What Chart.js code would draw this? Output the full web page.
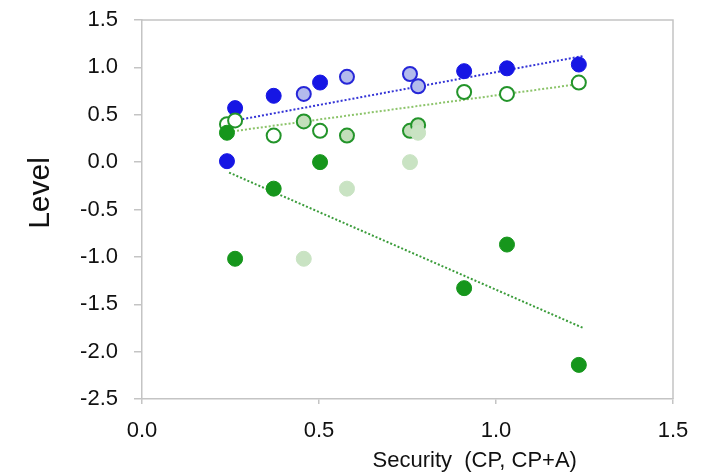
<!DOCTYPE html>
<html>
<head>
<meta charset="utf-8">
<script src="https://cdn.jsdelivr.net/npm/chart.js@4"></script>
<style>
  html, body { margin: 0; padding: 0; background: #fff; }
  #wrap { width: 715px; height: 473px; }
</style>
</head>
<body>
<div id="wrap"><canvas id="levelChart" width="715" height="473"></canvas></div>
<script>
// ── data ──
const xTicks = [0, 0.5, 1.0, 1.5];
const yTicks = [-2.5, -2.0, -1.5, -1.0, -0.5, 0, 0.5, 1.0, 1.5];

// security values: CP (solid marks) and CP+A (light marks)
const cpX  = [0.24, 0.263, 0.372, 0.503, 0.91, 1.031, 1.234];
const cpaX = [0.457, 0.579, 0.757, 0.78];

const blueCP    = [0.01, 0.57, 0.70, 0.84, 0.96, 0.99, 1.03];
const blueCPA   = [0.72, 0.90, 0.93, 0.80];
const ringCP    = [0.40, 0.44, 0.28, 0.33, 0.74, 0.72, 0.84];
const ringCPA   = [0.43, 0.28, 0.33, 0.39];
const greenCP   = [0.31, -1.02, -0.28, 0.0, -1.33, -0.87, -2.14];
const greenCPA  = [-1.02, -0.28, 0.0, 0.31];

// dotted trend lines, [start, end]
const blueTrendX  = [0.25, 1.246];
const blueTrendY  = [0.43, 1.12];
const ringTrendX  = [0.246, 1.246];
const ringTrendY  = [0.32, 0.83];
const greenTrendX = [0.246, 1.246];
const greenTrendY = [-0.11, -1.75];

const FONT = '"Liberation Sans", Arial, Helvetica, sans-serif';
const AXIS_GREY = '#c4c4c4';

function pts(xs, ys) {
  return xs.map((x, i) => ({ x: x, y: ys[i] }));
}

function scatterSet(xs, ys, fill, border, bw, r, order) {
  return {
    type: 'scatter',
    data: pts(xs, ys),
    backgroundColor: fill,
    borderColor: border,
    borderWidth: bw,
    pointRadius: r,
    pointHoverRadius: r,
    order: order
  };
}

function trendSet(xs, ys, color) {
  return {
    type: 'line',
    data: pts(xs, ys),
    borderColor: color,
    borderWidth: 2,
    borderDash: [2, 2],
    pointRadius: 0,
    fill: false,
    order: 20
  };
}

// frame on top and right + the two axis titles
const framePlugin = {
  id: 'frame',
  beforeDatasetsDraw(chart) {
    const { ctx, chartArea: a } = chart;
    ctx.save();
    ctx.strokeStyle = AXIS_GREY;
    ctx.lineWidth = 1.5;
    ctx.beginPath();
    ctx.moveTo(a.left, a.top);
    ctx.lineTo(a.right, a.top);
    ctx.lineTo(a.right, a.bottom);
    ctx.stroke();
    ctx.restore();
  },
  afterDraw(chart) {
    const ctx = chart.ctx;
    const xs = chart.scales.x;
    ctx.save();
    ctx.fillStyle = '#111';
    ctx.textAlign = 'center';
    ctx.textBaseline = 'middle';
    ctx.font = '22px ' + FONT;
    ctx.fillText('Security  (CP, CP+A)', xs.getPixelForValue(0.94), 461);
    ctx.translate(41, 193);
    ctx.rotate(-Math.PI / 2);
    ctx.font = '30px ' + FONT;
    ctx.fillText('Level', 0, 0);
    ctx.restore();
  }
};

const chart = new Chart(document.getElementById('levelChart'), {
  data: {
    datasets: [
      trendSet(blueTrendX, blueTrendY, '#3434d6'),
      trendSet(ringTrendX, ringTrendY, '#8cc46a'),
      trendSet(greenTrendX, greenTrendY, '#3a9c3a'),
      scatterSet(cpaX, blueCPA, '#b3bbec', '#2626d8', 2, 7, 6),
      scatterSet(cpX, blueCP, '#1616e4', '#1616e4', 1, 7.5, 5),
      scatterSet(cpX, ringCP, '#ffffff', '#23942a', 2, 7, 4),
      scatterSet(cpaX, ringCPA, '#c3dfbb', '#23942a', 2, 7, 3),
      scatterSet(cpaX, greenCPA, '#c9e3c3', '#c9e3c3', 1, 7.5, 2),
      scatterSet(cpX, greenCP, '#16961c', '#16961c', 1, 7.5, 1)
    ]
  },
  options: {
    responsive: false,
    animation: false,
    layout: { padding: { left: 0, top: 20, right: 42, bottom: 0 } },
    plugins: {
      legend: { display: false },
      tooltip: { enabled: false }
    },
    scales: {
      x: {
        type: 'linear',
        min: 0,
        max: 1.5,
        afterBuildTicks: s => { s.ticks = xTicks.map(v => ({ value: v })); },
        afterFit: s => { s.height = 74; s.paddingLeft = 0; s.paddingRight = 0; },
        grid: { drawOnChartArea: false, drawTicks: true, tickLength: 5, color: AXIS_GREY, lineWidth: 1.5 },
        border: { display: true, color: AXIS_GREY, width: 1.5 },
        ticks: {
          padding: 14,
          color: '#111',
          font: { family: FONT, size: 22 },
          callback: v => v.toFixed(1)
        }
      },
      y: {
        type: 'linear',
        min: -2.5,
        max: 1.5,
        afterBuildTicks: s => { s.ticks = yTicks.map(v => ({ value: v })); },
        afterFit: s => { s.width = 142; s.paddingTop = 0; s.paddingBottom = 0; },
        grid: { drawOnChartArea: false, drawTicks: true, tickLength: 8, color: AXIS_GREY, lineWidth: 1.5 },
        border: { display: true, color: AXIS_GREY, width: 1.5 },
        ticks: {
          padding: 16,
          color: '#111',
          font: { family: FONT, size: 22 },
          callback: v => v.toFixed(1)
        }
      }
    }
  },
  plugins: [framePlugin]
});
</script>
</body>
</html>
